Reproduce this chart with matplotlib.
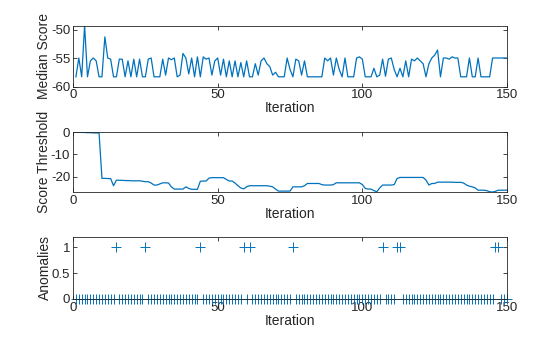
import matplotlib
matplotlib.use("Agg")
import matplotlib.pyplot as plt

plt.rcParams['font.family'] = ['Liberation Sans', 'DejaVu Sans']
plt.rcParams['axes.unicode_minus'] = False

ITERATIONS = list(range(1, 151))

median_score = [
    -58.3, -55.0, -58.3, -49.3, -58.3, -55.5, -55.0, -55.5, -58.3, -58.3,
    -51.3, -55.0, -55.2, -58.3, -58.3, -55.2, -55.2, -58.3, -55.5, -58.3,
    -55.2, -58.3, -55.2, -58.3, -58.3, -55.2, -55.0, -58.3, -58.3, -58.3,
    -55.2, -58.0, -55.0, -55.3, -55.0, -58.3, -58.0, -54.2, -55.0, -57.8,
    -55.0, -58.3, -54.8, -58.3, -54.8, -55.2, -55.0, -58.0, -55.5, -55.0,
    -58.0, -55.2, -58.3, -55.5, -58.3, -55.5, -58.3, -55.8, -58.3, -55.5,
    -58.3, -58.3, -56.0, -58.0, -55.5, -55.0, -56.0, -56.5, -58.0, -57.5,
    -58.3, -58.3, -58.3, -55.0, -57.0, -58.3, -55.2, -55.5, -58.0, -55.5,
    -58.3, -58.3, -58.3, -58.3, -58.3, -58.3, -55.0, -55.5, -55.0, -58.0,
    -55.0, -57.0, -58.3, -55.0, -58.3, -58.3, -58.3, -55.0, -54.8, -55.2,
    -58.3, -58.3, -58.3, -56.8, -58.3, -58.0, -55.2, -58.2, -55.2, -55.0,
    -57.0, -58.3, -56.8, -58.3, -55.5, -58.3, -55.2, -55.5, -55.0, -55.5,
    -56.0, -58.3, -56.0, -55.0, -54.5, -53.6, -58.3, -55.0, -55.0, -55.2,
    -54.8, -55.0, -55.0, -58.3, -58.3, -58.3, -55.0, -58.3, -58.3, -55.0,
    -58.3, -58.3, -58.3, -58.3, -55.0, -55.0, -55.0, -55.0, -55.0, -55.0,
]

score_threshold = [
    0.0, -0.1, -0.2, -0.2, -0.3, -0.3, -0.4, -0.4, -0.5, -20.7,
    -20.7, -20.8, -20.8, -24.0, -21.5, -21.6, -21.6, -21.7, -21.7, -21.8,
    -21.8, -21.8, -21.8, -22.0, -22.2, -22.2, -22.8, -23.7, -23.7, -23.2,
    -22.7, -22.7, -22.8, -24.5, -25.5, -25.5, -25.5, -25.5, -24.5, -25.2,
    -25.6, -25.6, -25.6, -22.0, -21.9, -21.9, -20.6, -20.4, -20.4, -20.4,
    -20.4, -20.4, -21.2, -21.9, -21.9, -22.8, -24.0, -25.0, -25.4, -24.5,
    -24.0, -24.0, -24.0, -24.0, -24.0, -24.0, -24.0, -24.2, -24.5, -25.5,
    -26.4, -26.4, -26.4, -26.4, -26.4, -24.5, -24.5, -24.5, -24.5, -24.0,
    -23.0, -23.0, -23.0, -23.0, -23.0, -23.5, -23.7, -23.7, -23.7, -23.5,
    -22.7, -22.7, -22.7, -22.7, -22.7, -22.7, -22.7, -22.7, -22.7, -23.5,
    -25.2, -25.5, -25.5, -26.2, -26.7, -25.0, -23.7, -23.7, -23.7, -23.7,
    -23.5, -20.8, -20.3, -20.3, -20.3, -20.3, -20.3, -20.3, -20.3, -20.3,
    -20.3, -21.5, -23.7, -23.0, -23.0, -22.4, -22.4, -22.4, -22.4, -22.4,
    -22.4, -22.5, -22.5, -22.5, -22.8, -23.7, -24.2, -24.5, -25.0, -26.0,
    -26.0, -26.0, -26.2, -26.7, -26.8, -26.5, -26.0, -26.0, -26.0, -26.0,
]

anomaly_iters = [15, 25, 44, 59, 61, 76, 107, 112, 113, 146, 147]
anomalies = [1 if i in anomaly_iters else 0 for i in ITERATIONS]

LINE_COLOR = '#0072BD'
AX_COLOR = '#262626'


def style_axes(ax):
    ax.set_xlim(0, 150)
    ax.set_xticks([0, 50, 100, 150])
    ax.tick_params(direction='in', top=True, right=True, length=3, width=0.6,
                   labelsize=9.5, colors=AX_COLOR, pad=2)
    for s in ax.spines.values():
        s.set_linewidth(0.6)
        s.set_color(AX_COLOR)
    ax.set_xlabel("Iteration", fontsize=10, color=AX_COLOR, labelpad=0)


fig = plt.figure(figsize=(5.6, 3.37), dpi=100)

ax1 = fig.add_axes([0.1304, 0.7433, 0.775, 0.181])
ax1.plot(ITERATIONS, median_score, color=LINE_COLOR, lw=0.9)
ax1.set_ylim(-60, max(median_score))
ax1.set_yticks([-60, -55, -50])
ax1.set_ylabel("Median Score", fontsize=10, color=AX_COLOR, labelpad=0)
style_axes(ax1)

ax2 = fig.add_axes([0.1304, 0.4303, 0.775, 0.178])
ax2.plot(ITERATIONS, score_threshold, color=LINE_COLOR, lw=0.9)
ax2.set_ylim(min(score_threshold), max(score_threshold))
ax2.set_yticks([-20, -10, 0])
ax2.set_ylabel("Score Threshold", fontsize=10, color=AX_COLOR, labelpad=0)
style_axes(ax2)

ax3 = fig.add_axes([0.1304, 0.1128, 0.775, 0.184])
ax3.plot(ITERATIONS, anomalies, '+', color=LINE_COLOR, ms=7, mew=0.7,
         clip_on=False)
ax3.set_ylim(0, 1.2)
ax3.set_yticks([0, 0.5, 1])
ax3.set_yticklabels(['0', '0.5', '1'])
ax3.set_ylabel("Anomalies", fontsize=10, color=AX_COLOR, labelpad=0)
style_axes(ax3)

fig.savefig("out.png", dpi=100)
